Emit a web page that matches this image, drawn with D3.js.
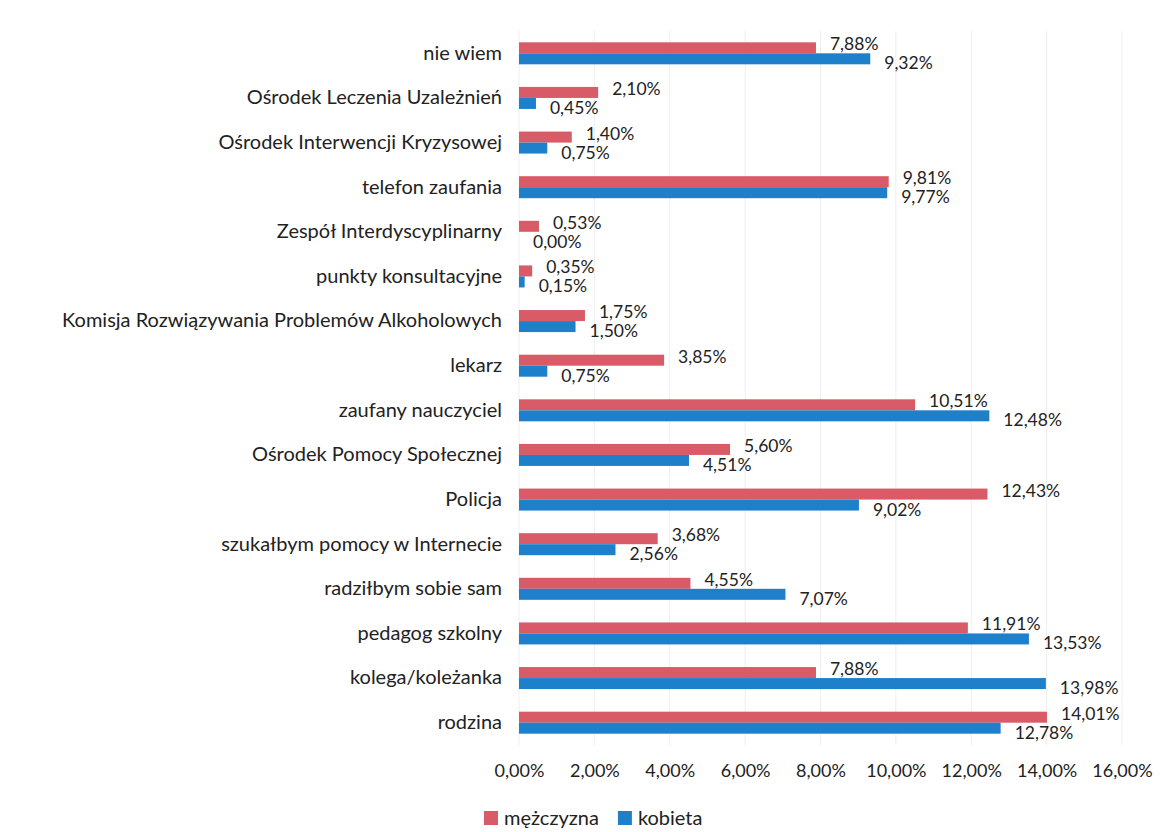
<!DOCTYPE html>
<html>
<head>
<meta charset="utf-8">
<script src="https://cdn.jsdelivr.net/npm/d3@7"></script>
<style>
  body { margin: 0; background: #fff; }
  text { font-family: Lato, "Open Sans", sans-serif; fill: #222; }
</style>
</head>
<body>
<div id="chart"></div>
<script>
const categories = [
  "nie wiem",
  "Ośrodek Leczenia Uzależnień",
  "Ośrodek Interwencji Kryzysowej",
  "telefon zaufania",
  "Zespół Interdyscyplinarny",
  "punkty konsultacyjne",
  "Komisja Rozwiązywania Problemów Alkoholowych",
  "lekarz",
  "zaufany nauczyciel",
  "Ośrodek Pomocy Społecznej",
  "Policja",
  "szukałbym pomocy w Internecie",
  "radziłbym sobie sam",
  "pedagog szkolny",
  "kolega/koleżanka",
  "rodzina"
];
const mezczyzna = [7.88, 2.10, 1.40, 9.81, 0.53, 0.35, 1.75, 3.85, 10.51, 5.60, 12.43, 3.68, 4.55, 11.91, 7.88, 14.01];
const kobieta   = [9.32, 0.45, 0.75, 9.77, 0.00, 0.15, 1.50, 0.75, 12.48, 4.51, 9.02, 2.56, 7.07, 13.53, 13.98, 12.78];
const xTicks = [0, 2, 4, 6, 8, 10, 12, 14, 16];
const seriesNames = ["mężczyzna", "kobieta"];
const seriesColors = ["#d85b67", "#1e7fcb"];

const width = 1175, height = 832;
const margin = {top: 31, left: 519, right: 53, bottom: 87};

const pl = d3.formatLocale({decimal: ",", thousands: " ", grouping: [3], currency: ["", " zł"]});
const fmt = d => pl.format(".2f")(d) + "%";

let svg = d3.select("#chart")
  .append("svg")
    .attr("width", width)
    .attr("height", height);

let x = d3.scaleLinear()
  .domain([0, 16])
  .range([margin.left, width - margin.right]);

let y = d3.scaleBand()
  .domain(categories)
  .range([margin.top, height - margin.bottom])
  .padding(0);

// gridlines
svg.append("g")
  .selectAll("line")
  .data(xTicks)
  .enter()
  .append("line")
    .attr("x1", d => x(d))
    .attr("x2", d => x(d))
    .attr("y1", margin.top)
    .attr("y2", height - margin.bottom)
    .attr("stroke", "#eeeeee")
    .attr("stroke-width", 1);

// x axis labels
let xAxis = svg.append("g")
  .attr("transform", "translate(0," + (height - margin.bottom) + ")")
  .call(d3.axisBottom(x).tickValues(xTicks).tickFormat(fmt).tickSize(0).tickPadding(19));
xAxis.select(".domain").remove();
xAxis.selectAll("text")
  .style("font-size", "18px")
  .style("font-family", "Lato, sans-serif")
  .attr("fill", "#222");

// y axis labels
let yAxis = svg.append("g")
  .attr("transform", "translate(" + (margin.left - 4) + ",0)")
  .call(d3.axisLeft(y).tickSize(0).tickPadding(13));
yAxis.select(".domain").remove();
yAxis.selectAll("text")
  .style("font-size", "20px")
  .style("font-family", "Lato, sans-serif")
  .attr("fill", "#222");

const barH = 11;
const cy = d => y(d) + y.bandwidth() / 2;

// red bars (top)
svg.append("g")
  .selectAll("rect")
  .data(categories)
  .enter()
  .append("rect")
    .attr("x", x(0))
    .attr("y", d => cy(d) - barH)
    .attr("width", (d, i) => x(mezczyzna[i]) - x(0))
    .attr("height", barH)
    .attr("fill", seriesColors[0]);

// blue bars (bottom)
svg.append("g")
  .selectAll("rect")
  .data(categories)
  .enter()
  .append("rect")
    .attr("x", x(0))
    .attr("y", d => cy(d))
    .attr("width", (d, i) => x(kobieta[i]) - x(0))
    .attr("height", barH)
    .attr("fill", seriesColors[1]);

// data labels
svg.append("g")
  .selectAll("text")
  .data(categories)
  .enter()
  .append("text")
    .attr("x", (d, i) => x(mezczyzna[i]) + 14)
    .attr("y", d => cy(d) - 3)
    .style("font-size", "17.5px")
    .text((d, i) => fmt(mezczyzna[i]));

svg.append("g")
  .selectAll("text")
  .data(categories)
  .enter()
  .append("text")
    .attr("x", (d, i) => x(kobieta[i]) + 14)
    .attr("y", d => cy(d) + 16)
    .style("font-size", "17.5px")
    .text((d, i) => fmt(kobieta[i]));

// legend
let legend = svg.append("g")
  .attr("transform", "translate(484,825)");
let lx = 0;
seriesNames.forEach((name, i) => {
  let g = legend.append("g").attr("transform", "translate(" + lx + ",0)");
  g.append("rect")
    .attr("x", 0)
    .attr("y", -14)
    .attr("width", 14)
    .attr("height", 14)
    .attr("fill", seriesColors[i]);
  let t = g.append("text")
    .attr("x", 20)
    .attr("y", 0)
    .style("font-size", "20px")
    .text(name);
  lx += 20 + t.node().getComputedTextLength() + 19;
});
</script>
</body>
</html>
